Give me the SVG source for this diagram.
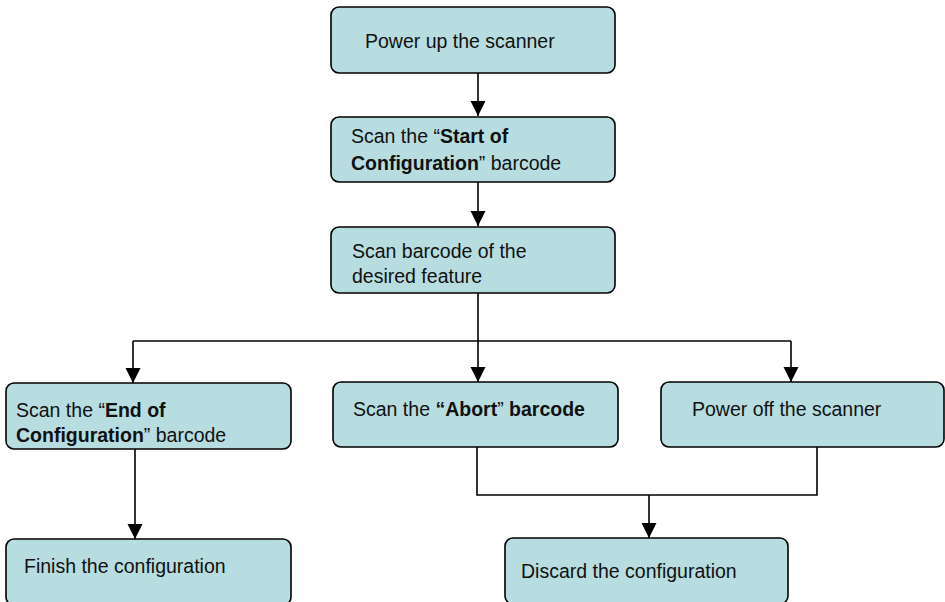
<svg xmlns="http://www.w3.org/2000/svg" width="945" height="602" viewBox="0 0 945 602">
<style>
.box{fill:#b7dde0;stroke:#000;stroke-width:1.6}
.t{font-family:"Liberation Sans",Arial,sans-serif;font-size:19.5px;fill:#111}
.b{font-weight:bold}
.c{fill:none;stroke:#000;stroke-width:1.6}
</style>
<defs>
<marker id="ah" markerUnits="userSpaceOnUse" markerWidth="16" markerHeight="16" refX="15" refY="7.5" orient="auto">
<path d="M0,0 L15,7.5 L0,15 Z" fill="#000"/>
</marker>
</defs>
<rect width="945" height="602" fill="#fff"/>
<g id="connectors">
<path class="c" d="M478,73 V116" marker-end="url(#ah)"/>
<path class="c" d="M478,182 V226" marker-end="url(#ah)"/>
<path class="c" d="M478,293 V382" marker-end="url(#ah)"/>
<path class="c" d="M133,341 H791"/>
<path class="c" d="M133,341 V383" marker-end="url(#ah)"/>
<path class="c" d="M791,341 V382" marker-end="url(#ah)"/>
<path class="c" d="M135,449 V539" marker-end="url(#ah)"/>
<path class="c" d="M477,447 V495 H817 V447"/>
<path class="c" d="M649,495 V538" marker-end="url(#ah)"/>
</g>
<g id="n1"><rect class="box" x="331" y="7" width="284" height="66" rx="8"/><text class="t" x="365" y="48">Power up the scanner</text></g>
<g id="n2"><rect class="box" x="331" y="117" width="284" height="65" rx="8"/><text class="t" x="351" y="143">Scan the “<tspan class="b">Start of</tspan></text><text class="t" x="351" y="170"><tspan class="b">Configuration</tspan>” barcode</text></g>
<g id="n3"><rect class="box" x="331" y="227" width="284" height="66" rx="8"/><text class="t" x="352" y="258">Scan barcode of the</text><text class="t" x="352" y="283">desired feature</text></g>
<g id="n4"><rect class="box" x="6" y="383" width="285" height="66" rx="8"/><text class="t" x="16" y="417">Scan the “<tspan class="b">End of</tspan></text><text class="t" x="16" y="442"><tspan class="b">Configuration</tspan>” barcode</text></g>
<g id="n5"><rect class="box" x="333" y="382" width="285" height="65" rx="8"/><text class="t" x="353" y="416">Scan the <tspan class="b">“Abort</tspan>” <tspan class="b">barcode</tspan></text></g>
<g id="n6"><rect class="box" x="661" y="382" width="283" height="65" rx="8"/><text class="t" x="692" y="416">Power off the scanner</text></g>
<g id="n7"><rect class="box" x="6" y="539" width="285" height="66" rx="8"/><text class="t" x="24" y="573">Finish the configuration</text></g>
<g id="n8"><rect class="box" x="505" y="538" width="283" height="66" rx="8"/><text class="t" x="521" y="578">Discard the configuration</text></g>
</svg>
